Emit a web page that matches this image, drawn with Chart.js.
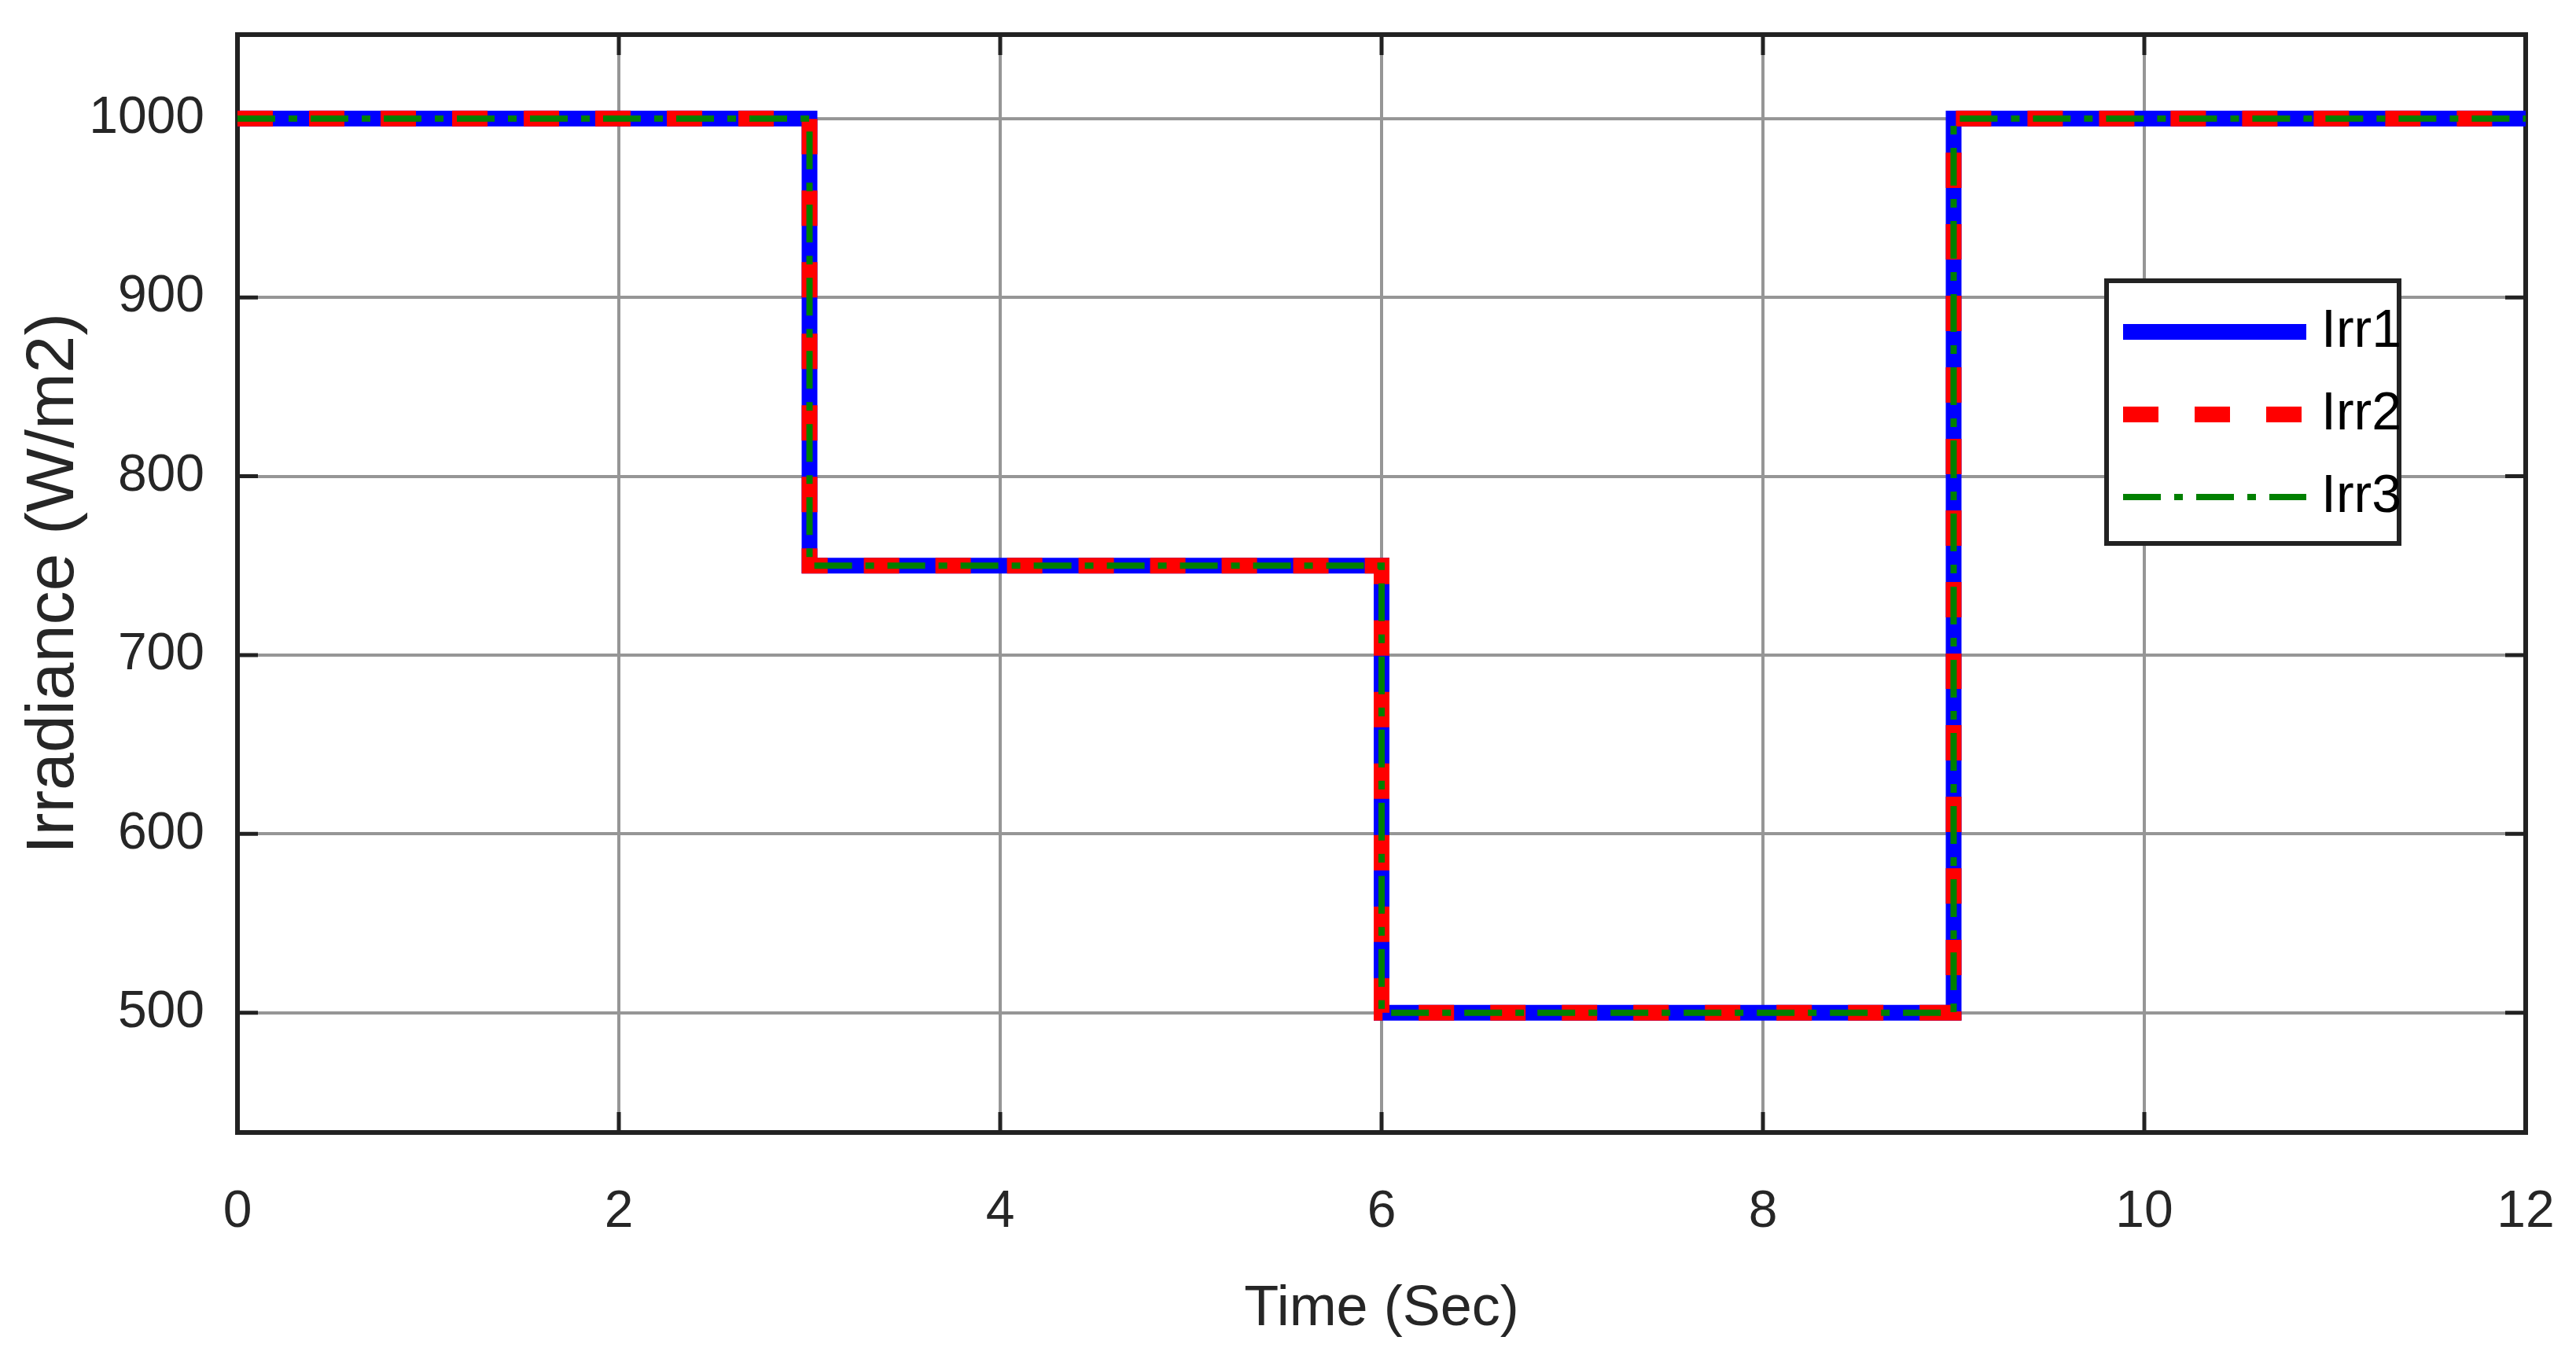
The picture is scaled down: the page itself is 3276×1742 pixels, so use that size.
<!DOCTYPE html>
<html>
<head>
<meta charset="utf-8">
<script src="https://cdn.jsdelivr.net/npm/chart.js@4.4.1/dist/chart.umd.min.js"></script>
<style>
  html, body { margin: 0; padding: 0; background: #fff; }
  canvas { display: block; }
</style>
</head>
<body>
<canvas id="graph" width="3276" height="1742"></canvas>
<script>
const time = [0, 3, 3, 6, 6, 9, 9, 12]
const irr1 = [1000, 1000, 750, 750, 500, 500, 1000, 1000]
const irr2 = [1000, 1000, 750, 750, 500, 500, 1000, 1000]
const irr3 = [1000, 1000, 750, 750, 500, 500, 1000, 1000]
const seriesNames = ["Irr1", "Irr2", "Irr3"]
const xTicks = [0, 2, 4, 6, 8, 10, 12]
const yTicks = [500, 600, 700, 800, 900, 1000]

const font = '"Liberation Sans", Arial, Helvetica, sans-serif'
const axisColor = '#262626'

const points = (ys) => time.map((t, i) => ({x: t, y: ys[i]}))

// box round the plot + inward tick marks, under the lines like matlab
const frame = {
    id: 'frame',
    beforeDatasetsDraw(chart) {
        const {ctx, chartArea: a, scales} = chart
        ctx.save()
        ctx.strokeStyle = '#222'
        ctx.lineWidth = 6
        ctx.strokeRect(a.left, a.top, a.right - a.left, a.bottom - a.top)
        ctx.lineWidth = 5
        const len = 26
        ctx.beginPath()
        xTicks.forEach(v => {
            const x = scales.x.getPixelForValue(v)
            ctx.moveTo(x, a.bottom); ctx.lineTo(x, a.bottom - len)
            ctx.moveTo(x, a.top); ctx.lineTo(x, a.top + len)
        })
        yTicks.forEach(v => {
            const y = scales.y.getPixelForValue(v)
            ctx.moveTo(a.left, y); ctx.lineTo(a.left + len, y)
            ctx.moveTo(a.right, y); ctx.lineTo(a.right - len, y)
        })
        ctx.stroke()
        ctx.restore()
    }
}

// legend in a boxed panel inside the plot
const legendBox = {
    id: 'legendBox',
    afterDatasetsDraw(chart) {
        const ctx = chart.ctx
        const box = {left: 2679, top: 357, right: 3051, bottom: 691}
        ctx.save()
        ctx.fillStyle = '#fff'
        ctx.fillRect(box.left, box.top, box.right - box.left, box.bottom - box.top)
        ctx.strokeStyle = '#222'
        ctx.lineWidth = 6
        ctx.strokeRect(box.left, box.top, box.right - box.left, box.bottom - box.top)
        chart.data.datasets.forEach((ds, i) => {
            const y = 422 + i * 105
            ctx.beginPath()
            ctx.strokeStyle = ds.borderColor
            ctx.lineWidth = ds.borderWidth
            ctx.setLineDash(ds.borderDash || [])
            ctx.moveTo(2700, y)
            ctx.lineTo(2933, y)
            ctx.stroke()
            ctx.setLineDash([])
            ctx.fillStyle = '#000'
            ctx.font = '68px ' + font
            ctx.textBaseline = 'middle'
            ctx.fillText(ds.label, 2952, y)
        })
        ctx.restore()
    }
}

const data = {
    datasets: [
        {
            label: seriesNames[0],
            data: points(irr1),
            borderColor: '#0000ff',
            borderWidth: 20,
            order: 3,
        },
        {
            label: seriesNames[1],
            data: points(irr2),
            borderColor: '#ff0000',
            borderWidth: 20,
            borderDash: [45, 46],
            order: 2,
        },
        {
            label: seriesNames[2],
            data: points(irr3),
            borderColor: '#008000',
            borderWidth: 8,
            borderDash: [48, 17, 11, 17],
            order: 1,
        },
    ],
}

const config = {
    type: 'line',
    data: data,
    options: {
        responsive: false,
        animation: false,
        elements: {point: {radius: 0}, line: {tension: 0}},
        layout: {padding: {top: 44, right: 64, left: 0, bottom: 0}},
        plugins: {legend: {display: false}, tooltip: {enabled: false}},
        scales: {
            x: {
                type: 'linear',
                min: 0,
                max: 12,
                afterBuildTicks(s) { s.ticks = xTicks.map(v => ({value: v})) },
                afterFit(s) { s.height = 302; s.paddingLeft = 0; s.paddingRight = 0 },
                grid: {color: '#969696', lineWidth: 4, drawTicks: false},
                border: {display: false},
                ticks: {color: axisColor, font: {family: font, size: 66}, padding: 62, maxRotation: 0, callback: v => String(v)},
                title: {display: true, text: 'Time (Sec)', color: axisColor, font: {family: font, size: 72}, padding: {top: 0, bottom: 34}},
            },
            y: {
                min: 433,
                max: 1047,
                afterBuildTicks(s) { s.ticks = yTicks.map(v => ({value: v})) },
                afterFit(s) { s.width = 302; s.paddingTop = 0; s.paddingBottom = 0 },
                grid: {color: '#969696', lineWidth: 4, drawTicks: false},
                border: {display: false},
                ticks: {color: axisColor, font: {family: font, size: 66}, padding: 42, callback: v => String(v)},
                title: {display: true, text: 'Irradiance (W/m2)', color: axisColor, font: {family: font, size: 86}, padding: {top: 18, bottom: 0}},
            },
        },
    },
    plugins: [frame, legendBox],
}

let myChart = new Chart(
    document.getElementById('graph').getContext('2d'),
    config
);
</script>
</body>
</html>
